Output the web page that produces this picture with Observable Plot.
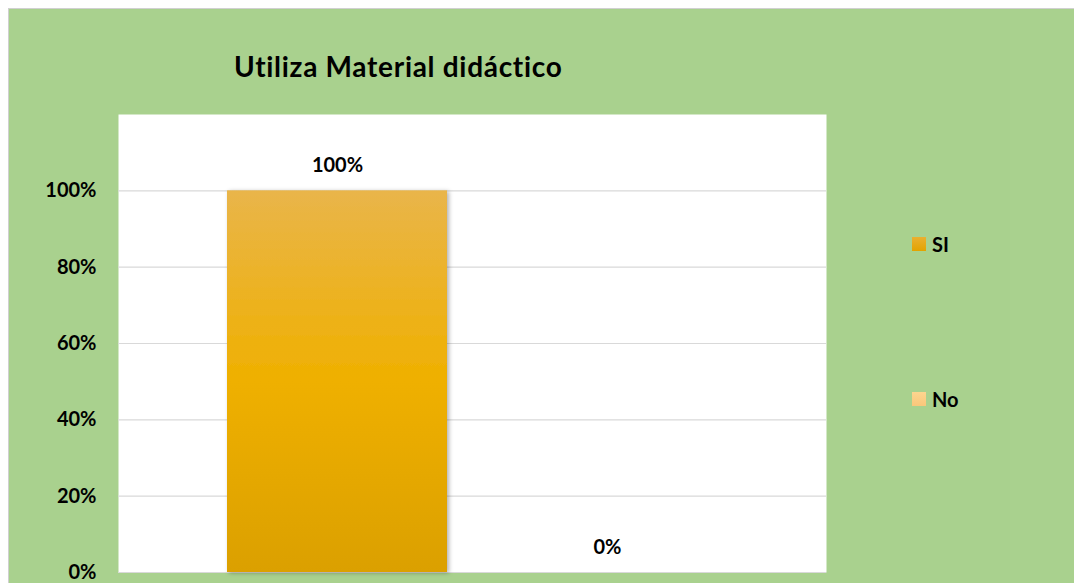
<!DOCTYPE html>
<html>
<head>
<meta charset="utf-8">
<script src="https://cdn.jsdelivr.net/npm/d3@7"></script>
<script src="https://cdn.jsdelivr.net/npm/@observablehq/plot@0.6"></script>
<style>
  html, body { margin: 0; padding: 0; background: #ffffff; }
  #wrap { position: relative; width: 1074px; height: 583px; overflow: hidden; font-family: Lato, "Open Sans", sans-serif; }
  #panel { position: absolute; left: 8px; top: 8px; width: 1080px; height: 590px; background: #a9d18e; border-left: 1px solid #d0d0d0; border-top: 1px solid #d0d0d0; }
  #title { position: absolute; left: 234px; top: 49px; font-size: 28px; font-weight: bold; color: #000; white-space: nowrap; letter-spacing: 0.7px; line-height: normal; }
  #chart { position: absolute; left: 0; top: 0; }
  .leg { position: absolute; display: flex; align-items: center; font-size: 20px; font-weight: bold; color: #000; }
  .sw { width: 14px; height: 14px; margin-right: 6px; }
</style>
</head>
<body>
<div id="wrap">
  <div id="panel"></div>
  <div id="title"></div>
  <div id="chart"></div>
  <div id="legend"></div>
</div>
<script>
const title = "Utiliza Material didáctico";
const series = ["SI", "No"];
const values = [1.0, 0.0];
const labels = ["100%", "0%"];
const yTicks = [0, 0.2, 0.4, 0.6, 0.8, 1.0];
const colors = ["url(#gSI)", "url(#gNo)"];
const swatchColors = ["linear-gradient(#eab030,#e2a300)", "linear-gradient(#fdd58f,#f9c77a)"];

document.getElementById("title").textContent = title;

const data = series.map((s, i) => ({series: s, value: values[i], label: labels[i]}));

const defs = () => {
  const ns = "http://www.w3.org/2000/svg";
  const d = document.createElementNS(ns, "defs");
  d.innerHTML = `
    <linearGradient id="gSI" x1="0" y1="0" x2="0" y2="1">
      <stop offset="0" stop-color="#e9b54a"/>
      <stop offset="0.5" stop-color="#efb000"/>
      <stop offset="1" stop-color="#dba000"/>
    </linearGradient>
    <linearGradient id="gNo" x1="0" y1="0" x2="0" y2="1">
      <stop offset="0" stop-color="#fdd58f"/>
      <stop offset="1" stop-color="#f9c77a"/>
    </linearGradient>
    <filter id="sh" x="-10%" y="-10%" width="130%" height="120%">
      <feDropShadow dx="2" dy="1" stdDeviation="2" flood-color="#000" flood-opacity="0.3"/>
    </filter>`;
  return d;
};

const chart = Plot.plot({
  width: 1074,
  height: 583,
  marginLeft: 118,
  marginRight: 248,
  marginTop: 114,
  marginBottom: 11,
  style: {background: "transparent", fontFamily: "Lato, 'Open Sans', sans-serif", overflow: "visible"},
  x: {domain: series, paddingInner: 0.185, paddingOuter: 0.4036, axis: null},
  y: {domain: [0, 1.2], axis: null},
  marks: [
    defs,
    Plot.frame({fill: "white", stroke: null}),
    Plot.gridY(yTicks, {stroke: "#d9d9d9", strokeOpacity: 1, strokeWidth: 1.2}),
    Plot.axisY(yTicks, {tickSize: 0, tickPadding: 22, label: null, tickFormat: d3.format(".0%"), fontSize: 20, fontWeight: "bold", fill: "#000"}),
    Plot.barY(data, {x: "series", y: "value", fill: d => colors[series.indexOf(d.series)]}),
    Plot.text(data, {x: "series", y: "value", text: "label", dy: -25, fontSize: 20, fontWeight: "bold", fill: "#000"})
  ]
});
const groups = chart.querySelectorAll("g[aria-label='bar']");
if (groups[0]) groups[0].setAttribute("filter", "url(#sh)");
document.getElementById("chart").appendChild(chart);

const leg = document.getElementById("legend");
const legTops = [232, 387];
series.forEach((s, i) => {
  const el = document.createElement("div");
  el.className = "leg";
  el.style.left = "912px";
  el.style.top = legTops[i] + "px";
  el.innerHTML = `<div class="sw" style="background:${swatchColors[i]}"></div><span>${s}</span>`;
  leg.appendChild(el);
});
</script>
</body>
</html>
